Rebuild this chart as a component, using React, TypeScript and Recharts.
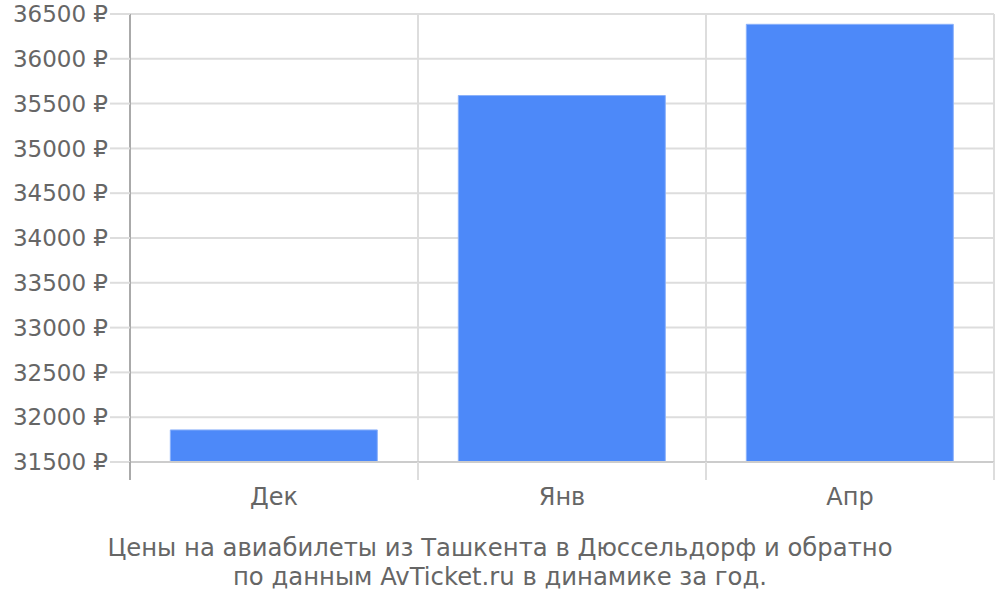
import React from 'react';
import { BarChart, Bar, XAxis, YAxis, CartesianGrid } from 'recharts';

const months = ['Дек', 'Янв', 'Апр'];
const prices = [31858, 35590, 36385];
const yTicks = [31500, 32000, 32500, 33000, 33500, 34000, 34500, 35000, 35500, 36000, 36500];
const titleLines = [
  'Цены на авиабилеты из Ташкента в Дюссельдорф и обратно',
  'по данным AvTicket.ru в динамике за год.',
];

const data = months.map((m, i) => ({ month: m, price: prices[i] }));

const FONT = '"DejaVu Sans", sans-serif';

const MonthTick = (props: any) => {
  const { x, y, payload, index, width, visibleTicksCount } = props;
  const band = width / visibleTicksCount;
  const left = x - band / 2;
  const top = y - 8;
  return (
    <g>
      <line x1={left} x2={left} y1={top} y2={top + 18} stroke={index === 0 ? '#aaa' : '#ddd'} strokeWidth={2} />
      {index === visibleTicksCount - 1 && (
        <line x1={left + band} x2={left + band} y1={top} y2={top + 18} stroke="#ddd" strokeWidth={2} />
      )}
      <text x={x} y={top + 43} textAnchor="middle" fill="#666" fontSize={24} fontFamily={FONT}>
        {payload.value}
      </text>
    </g>
  );
};

export default function App() {
  return (
    <div style={{ position: 'absolute', left: 0, top: 0, width: 1000, height: 600, background: '#fff' }}>
      <BarChart
        width={1000}
        height={600}
        data={data}
        margin={{ top: 14, right: 6, left: 0, bottom: 0 }}
        barCategoryGap="14%"
      >
        <CartesianGrid
          stroke="#ddd"
          strokeWidth={2}
          verticalCoordinatesGenerator={({ offset }: any) =>
            months.map((_, i) => offset.left + (offset.width * i) / months.length).concat(offset.left + offset.width)
          }
        />
        <XAxis
          dataKey="month"
          height={138}
          axisLine={{ stroke: '#ccc', strokeWidth: 2 }}
          tickLine={false}
          tick={<MonthTick />}
          interval={0}
        />
        <YAxis
          width={130}
          domain={[31500, 36500]}
          ticks={yTicks}
          interval={0}
          allowDataOverflow
          tickFormatter={(v: number) => `${v} ₽`}
          tickSize={20}
          tickMargin={2}
          tick={{ fill: '#666', fontSize: 23, fontFamily: FONT }}
          tickLine={{ stroke: '#ddd', strokeWidth: 2 }}
          axisLine={{ stroke: '#aaa', strokeWidth: 2 }}
        />
        <Bar dataKey="price" fill="#4d89f9" stroke="#8cb2fa" strokeWidth={1} isAnimationActive={false} />
      </BarChart>
      <div
        style={{
          position: 'absolute',
          left: 0,
          top: 533,
          width: 1000,
          textAlign: 'center',
          fontFamily: FONT,
          fontSize: 24.3,
          lineHeight: '29px',
          color: '#666',
        }}
      >
        {titleLines.map((l) => (
          <div key={l}>{l}</div>
        ))}
      </div>
    </div>
  );
}
